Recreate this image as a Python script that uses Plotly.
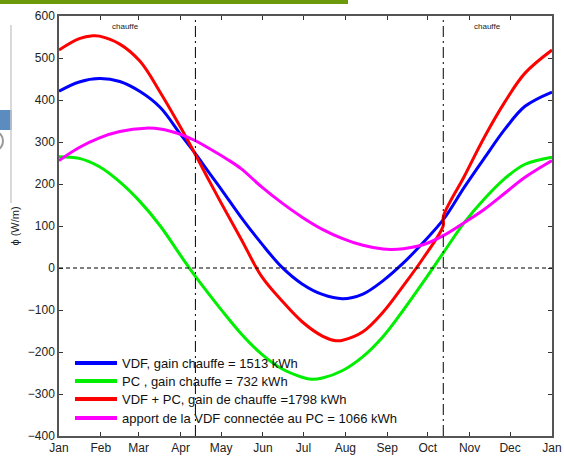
import plotly.graph_objects as go

# ---- data (day of year, W/m) ----
days_vdf = [0, 15, 30, 45, 60, 75, 90, 101, 110, 120, 135, 150, 165, 180, 195, 210, 225, 240, 255, 270, 284.5, 300, 315, 330, 345, 365]
vdf = [421, 443, 451, 444, 420, 382, 318, 272, 232, 188, 120, 58, 2, -38, -63, -73, -62, -30, 12, 62, 115, 192, 262, 330, 385, 419]

days_pc = [0, 15, 30, 45, 60, 75, 90, 101, 110, 120, 135, 150, 165, 180, 187, 195, 210, 225, 240, 255, 270, 284.5, 300, 315, 330, 345, 365]
pc = [265, 261, 241, 205, 158, 100, 30, -20, -58, -99, -157, -205, -240, -260, -265, -262, -244, -211, -163, -100, -32, 36, 108, 165, 213, 247, 264]

days_vdfpc = [0, 15, 25, 30, 45, 60, 75, 90, 101, 110, 120, 135, 150, 165, 180, 195, 205, 210, 225, 240, 255, 270, 284.4, 284.6, 300, 315, 330, 345, 365]
vdfpc = [519, 546, 553, 552, 533, 492, 418, 335, 270, 215, 155, 68, -20, -78, -128, -162, -173, -172, -152, -105, -42, 25, 100, 123, 218, 312, 395, 464, 519]

days_app = [0, 15, 30, 45, 64, 75, 90, 101, 110, 125, 135, 150, 165, 180, 195, 210, 225, 240, 246, 255, 270, 284.5, 300, 315, 330, 345, 365]
apport = [256, 287, 310, 325, 333, 331, 318, 303, 287, 258, 236, 193, 155, 121, 92, 70, 54, 45, 44, 46, 56, 77, 108, 140, 178, 216, 256]

names = [
    "VDF, gain chauffe = 1513 kWh",
    "PC , gain chauffe = 732 kWh",
    "VDF + PC, gain de chauffe =1798 kWh",
    "apport de la VDF connectée au PC = 1066 kWh",
]
colors = ["#0000ff", "#00ee00", "#ff0000", "#ff00ff"]

month_days = [0, 31, 59, 90, 120, 151, 181, 212, 243, 273, 304, 334, 365]
month_labels = ["Jan", "Feb", "Mar", "Apr", "May", "Jun", "Jul", "Aug", "Sep", "Oct", "Nov", "Dec", "Jan"]
y_ticks = [-400, -300, -200, -100, 0, 100, 200, 300, 400, 500, 600]

heating_limits = [101, 284.5]
chauffe_pos = [49, 317]

FONT = "Liberation Sans, Arial, sans-serif"

# plot area geometry in px (used only for paper-coordinate decorations)
L, R, T, B = 59, 552, 16, 436
W, H = R - L, B - T


def px(xp):
    return (xp - L) / W


def py(yp):
    return (B - yp) / H


fig = go.Figure()
for xs, ys, nm, col in zip([days_vdf, days_pc, days_vdfpc, days_app],
                           [vdf, pc, vdfpc, apport], names, colors):
    fig.add_trace(go.Scatter(x=xs, y=ys, mode="lines", name=nm, showlegend=False,
                             hoverinfo="skip",
                             line=dict(color=col, width=3, shape="spline", smoothing=1.0)))

# zero line
fig.add_shape(type="line", xref="x", yref="y", x0=0, x1=365, y0=0, y1=0,
              line=dict(color="black", width=1, dash="4px,3px"))
# heating season limits
for d in heating_limits:
    fig.add_shape(type="line", xref="x", yref="y", x0=d, x1=d, y0=-400, y1=600,
                  line=dict(color="black", width=1, dash="11px,4px,2px,4px"))
for d in chauffe_pos:
    fig.add_annotation(x=d, y=575, xref="x", yref="y", text="chauffe", showarrow=False,
                       font=dict(size=8, color="#222", family=FONT))

# legend (drawn manually to match spacing)
leg_rows = [363, 381, 399, 418]
for yy, nm, col in zip(leg_rows, names, colors):
    fig.add_shape(type="line", xref="paper", yref="paper", x0=px(75), x1=px(117),
                  y0=py(yy), y1=py(yy), line=dict(color=col, width=4))
    fig.add_annotation(xref="paper", yref="paper", x=px(120), y=py(yy), text=nm,
                       showarrow=False, xanchor="left", yanchor="middle",
                       font=dict(size=13, color="#111", family=FONT))

# slide decorations
fig.add_shape(type="rect", xref="paper", yref="paper", x0=px(0), x1=px(348),
              y0=py(0), y1=py(4), line=dict(width=0), fillcolor="#6c9a0b", layer="below")
fig.add_shape(type="rect", xref="paper", yref="paper", x0=px(0), x1=px(12),
              y0=py(110), y1=py(130), line=dict(width=0), fillcolor="#5b8cc0", layer="below")
fig.add_shape(type="line", xref="paper", yref="paper", x0=px(11), x1=px(11),
              y0=py(25), y1=py(203), line=dict(color="#cccccc", width=1.5), layer="below")
fig.add_shape(type="circle", xref="paper", yref="paper", x0=px(-12), x1=px(3),
              y0=py(132), y1=py(150), line=dict(color="#999999", width=2), layer="below")

fig.update_layout(
    width=564, height=456,
    margin=dict(l=L, r=564 - R, t=T, b=456 - B, autoexpand=False),
    paper_bgcolor="white", plot_bgcolor="white",
    font=dict(family=FONT, size=12, color="#222"),
    showlegend=False,
    xaxis=dict(range=[0, 365], tickvals=month_days, ticktext=month_labels,
               ticks="inside", ticklen=4, tickcolor="#333", showline=True,
               linecolor="#555", linewidth=1.5, mirror="ticks", showgrid=False,
               zeroline=False, automargin=False, tickfont=dict(size=12, color="#222")),
    yaxis=dict(range=[-400, 600], tickvals=y_ticks, ticks="inside", ticklen=4,
               tickcolor="#333", showline=True, linecolor="#555", linewidth=1.5,
               mirror="ticks", showgrid=False, zeroline=False, automargin=False,
               tickfont=dict(size=12, color="#222"),
               title=dict(text="ϕ (W/m)", font=dict(size=11, color="#222"), standoff=6)),
)

fig.write_html("out.html", config={"displayModeBar": False},
               post_script="document.body.style.margin='0px';document.body.style.overflow='hidden';")
